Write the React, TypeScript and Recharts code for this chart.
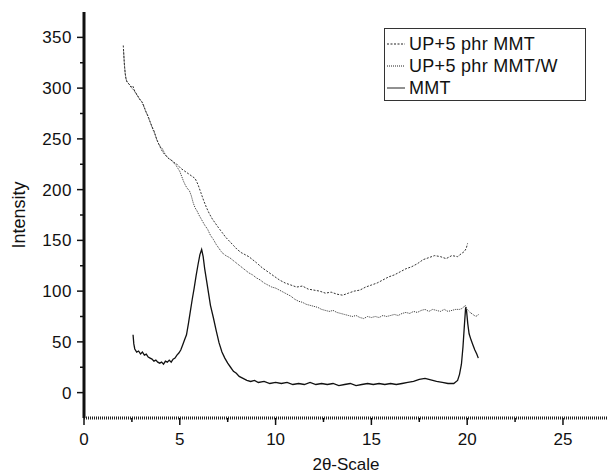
import React from "react";
import { LineChart, Line, XAxis, YAxis } from "recharts";

const FONT = "Arial, 'Liberation Sans', sans-serif";

// UP+5 phr MMT (dashed, upper curve)
const UP_MMT_X = [
  2.05, 2.08, 2.12, 2.18, 2.25, 2.35, 2.45, 2.55, 2.65, 2.75, 2.85, 2.95, 3.05, 3.15, 3.25, 3.35,
  3.45, 3.55, 3.65, 3.75, 3.85, 3.95, 4.05, 4.15, 4.25, 4.35, 4.45, 4.55, 4.65, 4.75, 4.85, 4.95,
  5.05, 5.2, 5.35, 5.5, 5.65, 5.8, 5.95, 6.1, 6.25, 6.4, 6.55, 6.7, 6.85, 7.0, 7.2, 7.4, 7.6, 7.8,
  8.0, 8.2, 8.4, 8.6, 8.8, 9.0, 9.3, 9.6, 9.9, 10.2, 10.5, 10.8, 11.1, 11.4, 11.7, 12.0, 12.3,
  12.6, 12.9, 13.2, 13.5, 13.8, 14.1, 14.4, 14.7, 15.0, 15.3, 15.6, 15.9, 16.2, 16.5, 16.8, 17.1,
  17.4, 17.7, 18.0, 18.3, 18.6, 18.9, 19.2, 19.5, 19.7, 19.85, 19.95, 20.02,
];
const UP_MMT_Y = [
  342, 332, 320, 310, 306, 304, 301, 302, 297, 294, 291, 288, 286, 281, 276, 272,
  267, 262, 258, 252, 247, 243, 239, 236, 234, 232, 230, 229, 228, 226, 225, 223,
  221, 219, 217, 215, 213, 211, 205, 197, 189, 182, 176, 171, 167, 163, 158, 153, 149, 145,
  141, 138, 136, 134, 131, 128, 123, 119, 115, 111, 108, 106, 104, 105, 102, 101, 100,
  98, 99, 97, 96, 98, 100, 101, 104, 106, 108, 111, 114, 116, 119, 122, 124,
  127, 131, 133, 135, 134, 132, 135, 134, 137, 139, 142, 147,
];

// UP+5 phr MMT/W (dotted, middle curve)
const UP_MMTW_X = [
  2.06, 2.1, 2.15, 2.22, 2.3, 2.4, 2.5, 2.6, 2.7, 2.8, 2.9, 3.0, 3.1, 3.2, 3.3, 3.4, 3.5, 3.6,
  3.7, 3.8, 3.9, 4.0, 4.1, 4.2, 4.3, 4.4, 4.5, 4.6, 4.7, 4.8, 4.9, 5.0, 5.1, 5.2, 5.3, 5.4, 5.5,
  5.6, 5.7, 5.8, 5.9, 6.0, 6.15, 6.3, 6.45, 6.6, 6.75, 6.9, 7.05, 7.2, 7.4, 7.6, 7.8, 8.0, 8.2,
  8.4, 8.6, 8.8, 9.0, 9.2, 9.4, 9.6, 9.8, 10.0, 10.2, 10.4, 10.6, 10.8, 11.0, 11.2, 11.4, 11.6,
  11.8, 12.0, 12.2, 12.4, 12.6, 12.8, 13.0, 13.2, 13.4, 13.6, 13.8, 14.0, 14.2, 14.4, 14.6, 14.8,
  15.0, 15.2, 15.4, 15.6, 15.8, 16.0, 16.2, 16.4, 16.6, 16.8, 17.0, 17.2, 17.4, 17.6, 17.8, 18.0,
  18.2, 18.4, 18.6, 18.8, 19.0, 19.2, 19.4, 19.6, 19.75, 19.9, 20.0, 20.15, 20.3, 20.45, 20.6,
];
const UP_MMTW_Y = [
  338, 326, 314, 307, 305, 303, 300, 298, 295, 292, 289, 287, 283, 278, 274, 269, 264, 259,
  255, 249, 245, 242, 240, 236, 233, 231, 230, 228, 226, 224, 221, 218, 213, 208, 204, 201, 199,
  194, 187, 182, 179, 175, 170, 165, 161, 155, 151, 146, 142, 138, 135, 133, 130, 127, 124,
  121, 118, 116, 113, 111, 108, 106, 104, 103, 101, 99, 97, 95, 92, 90, 89, 87,
  86, 85, 84, 82, 81, 80, 81, 79, 78, 77, 76, 75, 76, 74, 73, 75,
  74, 75, 74, 76, 75, 76, 77, 76, 78, 79, 78, 80, 79, 81, 82, 80,
  82, 81, 80, 82, 80, 81, 82, 82, 83, 86, 82, 79, 77, 75, 77,
];

// MMT (solid, bottom curve)
const MMT_X = [
  2.56, 2.6, 2.65, 2.75, 2.85, 2.95, 3.05, 3.15, 3.25, 3.35, 3.45, 3.55, 3.65, 3.75, 3.85, 3.95,
  4.05, 4.15, 4.25, 4.35, 4.45, 4.55, 4.65, 4.75, 4.85, 4.95, 5.05, 5.15, 5.25, 5.35, 5.45, 5.55,
  5.65, 5.75, 5.85, 5.95, 6.05, 6.14, 6.22, 6.3, 6.4, 6.5, 6.6, 6.75, 6.9, 7.05, 7.2, 7.35, 7.5,
  7.65, 7.8, 7.95, 8.1, 8.3, 8.5, 8.7, 8.9, 9.1, 9.4, 9.7, 10.0, 10.3, 10.6, 10.9, 11.2, 11.5,
  11.8, 12.1, 12.4, 12.7, 13.0, 13.3, 13.6, 13.9, 14.2, 14.5, 14.8, 15.1, 15.4, 15.7, 16.0, 16.3,
  16.6, 16.9, 17.2, 17.5, 17.8, 18.0, 18.2, 18.4, 18.7, 19.0, 19.3, 19.5, 19.6, 19.7, 19.78,
  19.85, 19.92, 19.97, 20.03, 20.1, 20.2, 20.3, 20.4, 20.5, 20.58,
];
const MMT_Y = [
  57, 48, 43, 40, 41, 38, 40, 37, 38, 35, 34, 33, 31, 32, 30, 29,
  30, 28, 31, 30, 32, 30, 33, 34, 37, 39, 42, 47, 52, 57, 68, 80,
  92, 103, 115, 126, 136, 141, 134, 122, 110, 98, 86, 74, 61, 49, 40, 34, 29,
  25, 21, 19, 16, 14, 12, 11, 12, 10, 11, 9, 10, 9, 10, 8, 9, 8,
  10, 8, 9, 8, 9, 7, 8, 9, 7, 8, 9, 8, 9, 8, 9, 8,
  9, 10, 11, 13, 14, 13, 12, 11, 10, 9, 9, 12, 18, 28, 45,
  65, 84, 80, 68, 58, 52, 47, 42, 38, 34,
];

const Y_TICKS = [0, 25, 50, 75, 100, 125, 150, 175, 200, 225, 250, 275, 300, 325, 350];
const X_TICKS = [0, 2.5, 5, 7.5, 10, 12.5, 15, 17.5, 20, 22.5, 25];

const zip = (xs: number[], ys: number[]) => xs.map((x, i) => ({ x, y: ys[i] }));

const upMmt = zip(UP_MMT_X, UP_MMT_Y);
const upMmtW = zip(UP_MMTW_X, UP_MMTW_Y);
const mmt = zip(MMT_X, MMT_Y);

const YTick = ({ x, y, payload }: any) => {
  const major = payload.value % 50 === 0;
  return (
    <g>
      <line x1={x - (major ? 7 : 4)} x2={x} y1={y} y2={y} stroke="#111" strokeWidth={1.5} />
      {major && (
        <text x={x - 12} y={y} dy={6} textAnchor="end" fontSize={17} fontFamily={FONT} fill="#111" letterSpacing={0.5}>
          {payload.value}
        </text>
      )}
    </g>
  );
};

const XTick = ({ x, y, payload }: any) => {
  const major = payload.value % 5 === 0;
  return (
    <g>
      <line x1={x} x2={x} y1={y} y2={y + (major ? 7 : 4)} stroke="#111" strokeWidth={1.5} />
      {major && (
        <text x={x} y={y} dy={27} textAnchor="middle" fontSize={17} fontFamily={FONT} fill="#111">
          {payload.value}
        </text>
      )}
    </g>
  );
};

const LEGEND_ROWS = [
  { name: "UP+5 phr MMT", dash: "2 1.5" },
  { name: "UP+5 phr MMT/W", dash: "1 1" },
  { name: "MMT", dash: undefined },
];

const LegendBox = () => (
  <div
    style={{
      position: "absolute",
      left: 384,
      top: 28,
      boxSizing: "border-box",
      width: 202,
      height: 73,
      border: "1px solid #333",
      background: "#fff",
      padding: "4px 0 0 2px",
      fontFamily: FONT,
    }}
  >
    {LEGEND_ROWS.map((r) => (
      <div key={r.name} style={{ display: "flex", alignItems: "center", height: 22 }}>
        <svg width={19} height={10}>
          <line x1={0} x2={18} y1={5} y2={5} stroke="#222" strokeWidth={1} strokeDasharray={r.dash} />
        </svg>
        <span style={{ marginLeft: 3, fontSize: 18, letterSpacing: 0.3, color: "#111" }}>{r.name}</span>
      </div>
    ))}
  </div>
);

export default function App() {
  return (
    <div style={{ position: "absolute", left: 0, top: 0, width: 608, height: 474, background: "#fff" }}>
      <LineChart width={608} height={474} margin={{ top: 12, right: 0, bottom: 0, left: 0 }}>
        <XAxis
          type="number"
          dataKey="x"
          domain={[0, 27.35]}
          ticks={X_TICKS}
          tick={<XTick />}
          tickSize={0}
          tickMargin={0}
          tickLine={false}
          height={56}
          axisLine={{ stroke: "#222", strokeWidth: 3, strokeDasharray: "1 1" }}
          allowDataOverflow
          label={{ value: "2θ-Scale", position: "insideBottom", offset: 4, fontSize: 17, fontFamily: FONT, fill: "#111" }}
        />
        <YAxis
          type="number"
          domain={[-25, 375]}
          ticks={Y_TICKS}
          tick={<YTick />}
          tickSize={0}
          tickMargin={0}
          tickLine={false}
          width={84}
          axisLine={{ stroke: "#111", strokeWidth: 3 }}
          allowDataOverflow
          label={{
            value: "Intensity",
            angle: -90,
            position: "insideLeft",
            offset: 19,
            textAnchor: "middle",
            fontSize: 18,
            fontFamily: FONT,
            fill: "#111",
          }}
        />
        <Line
          data={upMmt}
          dataKey="y"
          name="UP+5 phr MMT"
          stroke="#333"
          strokeWidth={1}
          strokeDasharray="2 1.5"
          dot={false}
          isAnimationActive={false}
        />
        <Line
          data={upMmtW}
          dataKey="y"
          name="UP+5 phr MMT/W"
          stroke="#333"
          strokeWidth={1}
          strokeDasharray="1 1"
          dot={false}
          isAnimationActive={false}
        />
        <Line
          data={mmt}
          dataKey="y"
          name="MMT"
          stroke="#111"
          strokeWidth={1.3}
          dot={false}
          isAnimationActive={false}
        />
      </LineChart>
      <LegendBox />
    </div>
  );
}
